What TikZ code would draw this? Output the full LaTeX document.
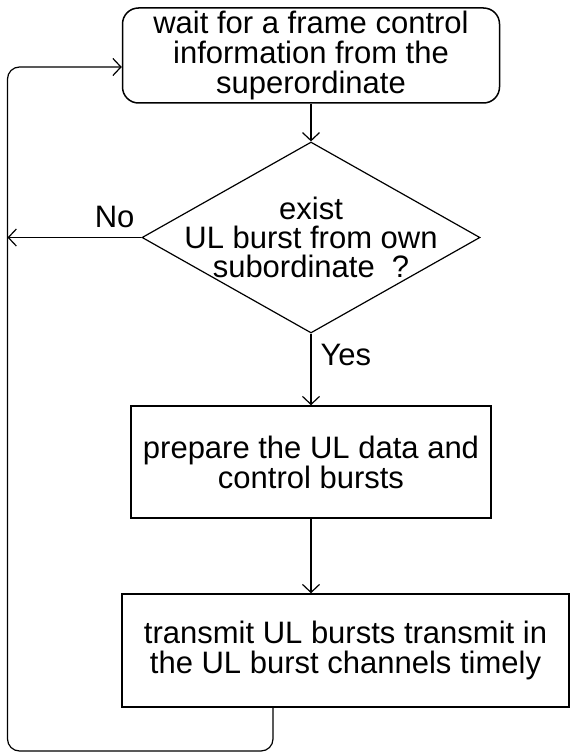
\documentclass[tikz,border=0pt]{standalone}
\usepackage{fontspec}
\setmainfont{Liberation Sans}
\usetikzlibrary{arrows.meta,shapes.geometric}

\begin{document}
\begin{tikzpicture}[>={Straight Barb[length=8pt,width=17pt]}, x=1pt, y=1pt,
	every node/.style={font=\fontsize{31}{30}\selectfont, inner sep=2pt},
	startbox/.style={draw, line width=1.5pt, rounded corners=16pt, align=center, minimum width=377pt, minimum height=95pt},
	procbox/.style={draw, line width=1.5pt, align=center},
	decision/.style={draw, diamond, line width=1.2pt, minimum width=338pt, minimum height=191pt, inner sep=0pt},
	flow/.style={->, line width=1.2pt}]
	
	\useasboundingbox (0,0) rectangle (571,-754);
	%\draw[gray,step=10] (0,0) grid (571,-754);
	
	\node [startbox] (wait) at (311,-55.5)
	{\fontsize{31}{28}\selectfont wait for a frame control\\ information from the\\ superordinate};
	\node [decision, label={[align=center,font=\fontsize{31}{29}\selectfont]center:exist\\ UL burst from own\\ subordinate~~?}] (exist) at (311,-237.5) {};
	\node [procbox, minimum width=360pt, minimum height=112pt] (prepare) at (311,-462)
	{prepare the UL data and\\ control bursts};
	\node [procbox, minimum width=447pt, minimum height=113pt] (transmit) at (345.5,-650.5)
	{\fontsize{31}{32}\selectfont transmit UL bursts transmit in\\ the UL burst channels timely};
	
	\coordinate (loopcorner) at (7.5,-751);
	
	\draw[flow] (wait.south) -- (exist.north);
	\draw[flow] (exist.south) -- (prepare.north) node [pos=0.3, right, xshift=7pt] (yes) {Yes};
	\draw[flow] (prepare.south) -- (prepare.south |- transmit.north);
	\draw[flow] (exist.west) -- (exist.west -| loopcorner) node [pos=0.2, above, yshift=7pt] (no) {No};
	\draw[flow, rounded corners=12pt] ([xshift=-72.5pt]transmit.south) |- (loopcorner) |- ([yshift=-11.5pt]wait.west);
\end{tikzpicture}
\end{document}
